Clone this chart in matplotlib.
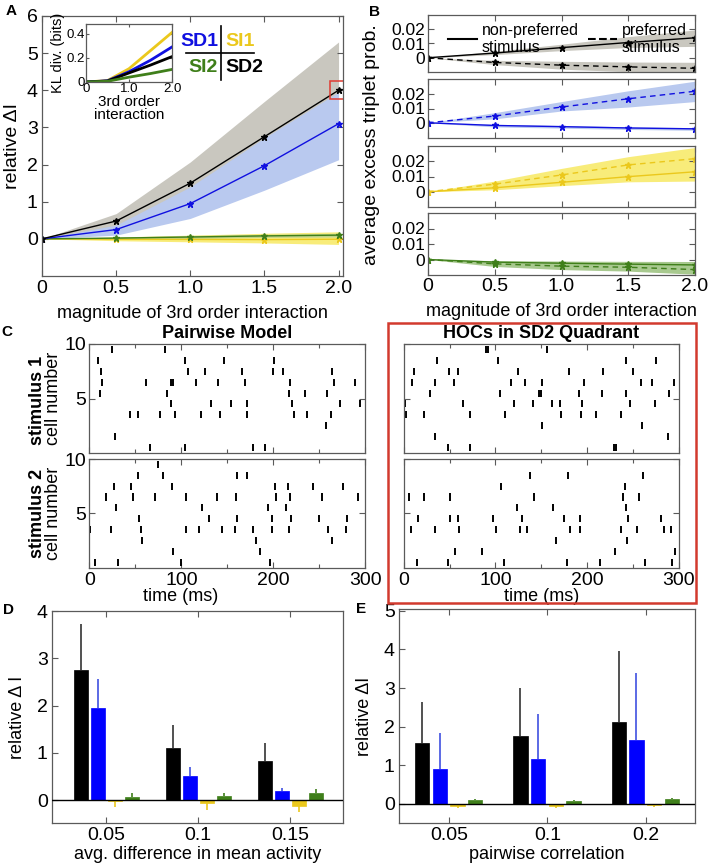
import matplotlib
matplotlib.use('Agg')
import matplotlib.pyplot as plt
import numpy as np
from matplotlib.patches import Rectangle
from matplotlib.lines import Line2D
from matplotlib.ticker import MultipleLocator

plt.rcParams['font.family'] = ['Liberation Sans', 'DejaVu Sans']

# ---------------- data ----------------
mag = [0, 0.5, 1.0, 1.5, 2.0]
# panel A: relative delta I
sd2_dI = [0, 0.48, 1.50, 2.75, 4.00]
sd2_lo = [0, 0.30, 1.00, 2.00, 3.00]
sd2_hi = [0, 0.68, 2.07, 3.70, 5.30]
sd1_dI = [0, 0.25, 0.95, 1.97, 3.10]
sd1_lo = [0, 0.10, 0.55, 1.31, 2.13]
sd1_hi = [0, 0.37, 1.40, 2.72, 3.95]
si1_dI = [0, -0.01, -0.015, -0.02, -0.01]
si1_lo = [0, -0.05, -0.08, -0.11, -0.15]
si1_hi = [0, 0.05, 0.10, 0.15, 0.19]
si2_dI = [0, 0.02, 0.05, 0.08, 0.10]
si2_lo = [0, -0.01, 0.01, 0.04, 0.05]
si2_hi = [0, 0.05, 0.09, 0.12, 0.15]
# inset: KL divergence (bits)
kl_si1 = [0, 0.012, 0.11, 0.26, 0.41]
kl_sd1 = [0, 0.010, 0.085, 0.18, 0.29]
kl_sd2 = [0, 0.008, 0.075, 0.14, 0.21]
kl_si2 = [0, 0.006, 0.040, 0.07, 0.104]

# panel B: average excess triplet prob. (np = non-preferred, p = preferred)
b_sd2_np = [0, 0.0033, 0.0071, 0.0107, 0.0140]
b_sd2_np_lo = [0, 0.0022, 0.0050, 0.0072, 0.0080]
b_sd2_np_hi = [0, 0.0045, 0.0095, 0.0148, 0.0195]
b_sd2_p = [0, -0.0033, -0.0052, -0.0064, -0.0074]
b_sd2_p_lo = [0, -0.0048, -0.0080, -0.0098, -0.0110]
b_sd2_p_hi = [0, -0.0018, -0.0025, -0.0030, -0.0032]

b_sd1_np = [0.0003, -0.0015, -0.0023, -0.0032, -0.0038]
b_sd1_np_lo = [0.0003, -0.0025, -0.0033, -0.0042, -0.0048]
b_sd1_np_hi = [0.0003, -0.0007, -0.0015, -0.0024, -0.0030]
b_sd1_p = [0.0003, 0.0049, 0.0110, 0.0166, 0.0217]
b_sd1_p_lo = [0.0003, 0.0030, 0.0083, 0.0110, 0.0147]
b_sd1_p_hi = [0.0003, 0.0072, 0.0147, 0.0220, 0.0285]

b_si1_np = [0, 0.0026, 0.0062, 0.0099, 0.0131]
b_si1_np_lo = [0, 0.0013, 0.0040, 0.0065, 0.0070]
b_si1_np_hi = [0, 0.0040, 0.0090, 0.0130, 0.0180]
b_si1_p = [0, 0.0050, 0.0110, 0.0176, 0.0217]
b_si1_p_lo = [0, 0.0030, 0.0080, 0.0120, 0.0150]
b_si1_p_hi = [0, 0.0070, 0.0153, 0.0230, 0.0290]

b_si2_np = [0, -0.0017, -0.0024, -0.0030, -0.0035]
b_si2_np_lo = [0, -0.0030, -0.0040, -0.0048, -0.0055]
b_si2_np_hi = [0, -0.0007, -0.0010, -0.0012, -0.0013]
b_si2_p = [0, -0.0028, -0.0043, -0.0050, -0.0065]
b_si2_p_lo = [0, -0.0045, -0.0065, -0.0075, -0.0095]
b_si2_p_hi = [0, -0.0015, -0.0025, -0.0030, -0.0040]

# panel C: spike rasters, rows = cell 1..10, spike times (ms)
pw_stim1 = [
    [66.2, 104, 177.7, 191],
    [27.7],
    [256.8],
    [44.6, 53.2, 76.3, 93.5, 120.9, 142.1, 171.2, 222.3, 236.3, 262.9],
    [88.8, 132.4, 154.3, 171.6, 219.8, 271.9, 293.5],
    [11.9, 84.2, 216.9, 234.2, 258.3],
    [13.7, 61.1, 88.5, 90.6, 116.2, 139.9, 169.1, 218, 265.8, 288.1],
    [12.6, 107.5, 125.2, 165.8, 199.3, 210, 264],
    [9.4, 104, 146.4, 200.4],
    [24.8, 82.4],
]
pw_stim2 = [
    [6.1, 31.7, 99.6, 196.8],
    [90.6, 185.2],
    [56.8, 181.3, 263.3],
    [0.7, 23.4, 56.5, 105.4, 118.7, 144.6, 158.6, 177.7, 198.6, 216.9, 259.7, 278.8],
    [53.6, 129.5, 160.8, 198.9, 218.7, 250, 279.5],
    [29.1, 122.3, 194.2, 213.7],
    [18.3, 47.5, 70.9, 105.4, 139.2, 159.3, 203.2, 218, 252.5, 292.1],
    [26.3, 45, 89.9, 201.8, 215.5, 243.5, 275.9],
    [53.2, 79.9, 160.8, 170.9],
    [74.8],
]
hoc_stim1 = [
    [48.2, 72, 229.1, 231.6],
    [34.1, 288.6],
    [151.3, 260.5],
    [2.4, 22.6, 72, 110.6, 171.8, 193.5, 210, 237.4],
    [1, 64.4, 119.9, 140.8, 161.7, 171.1, 194.5, 247.5, 274.5],
    [28.4, 104.8, 147.3, 150.2, 191.6, 216.9, 243.2, 290.1],
    [8.6, 33.8, 54.3, 117.4, 132.9, 150.9, 196.7, 258.7, 270.6, 294.7],
    [11.1, 48.9, 59, 124.6, 180.8, 217.2, 250.7],
    [36.7, 102.6, 243.2, 275.6],
    [89.3, 91.5, 156.7],
]
hoc_stim2 = [
    [14, 48.2, 109.1, 178.3, 214.4, 263, 292.9],
    [56.1, 84.9, 230.2, 296.2],
    [166, 243.5],
    [7.8, 34.1, 60.1, 101.2, 126.4, 134.7, 181.9, 192.7, 237.4, 255.1, 284.3, 292.2],
    [15, 50, 59.4, 97.6, 129.3, 175.1, 192.7, 245.3, 281],
    [123.9, 163.2, 242.8],
    [5.7, 22.3, 50.7, 142.6, 239.6, 257.2],
    [106.6, 241.4],
    [137.9, 179.4, 260.9],
    [],
]

# panel D
d_groups = ['0.05', '0.1', '0.15']
d_sd2 = [2.75, 1.10, 0.84]; d_sd2_err = [0.98, 0.49, 0.37]
d_sd1 = [1.96, 0.52, 0.19]; d_sd1_err = [0.60, 0.18, 0.08]
d_si1 = [-0.01, -0.056, -0.13]; d_si1_err = [0.14, 0.14, 0.11]
d_si2 = [0.07, 0.09, 0.15]; d_si2_err = [0.08, 0.07, 0.08]
# panel E
e_groups = ['0.05', '0.1', '0.2']
e_sd2 = [1.57, 1.76, 2.11]; e_sd2_err = [1.06, 1.24, 1.85]
e_sd1 = [0.89, 1.16, 1.65]; e_sd1_err = [0.95, 1.17, 1.74]
e_si1 = [-0.06, -0.06, -0.03]; e_si1_err = [0.05, 0.06, 0.05]
e_si2 = [0.09, 0.08, 0.12]; e_si2_err = [0.03, 0.02, 0.02]

# ---------------- style ----------------
BLACK = '#000000'; BLUE = '#1010e0'; YELLOW = '#ebc81c'; GREEN = '#3f7f1a'
F_GRAY = '#c9c7bf'; F_BLUE = '#b9c9ef'; F_YEL = '#f8ec7a'; F_GRN = '#a8c98f'
SPINE = '#5a5a5a'
W, H = 708, 866
fig = plt.figure(figsize=(W / 100, H / 100), dpi=100)


def ax_px(l, t, r, b):
    return fig.add_axes([l / W, 1 - b / H, (r - l) / W, (b - t) / H])


def style(ax, size=13):
    for s in ax.spines.values():
        s.set_color(SPINE)
        s.set_linewidth(0.9)
    ax.tick_params(direction='in', top=True, right=True, color=SPINE,
                   labelsize=size, length=4, width=0.8, pad=3)
    ax.tick_params(which='minor', direction='in', top=True, right=True,
                   color=SPINE, length=3, width=0.8)


# ---------------- panel A ----------------
axA = ax_px(42, 16, 343, 276)
axA.fill_between(mag, sd2_lo, sd2_hi, color=F_GRAY, lw=0)
axA.fill_between(mag, sd1_lo, sd1_hi, color=F_BLUE, lw=0)
axA.fill_between(mag, si1_lo, si1_hi, color=F_YEL, lw=0)
axA.fill_between(mag, si2_lo, si2_hi, color=F_GRN, lw=0, alpha=0.7)
for ys, c in [(si1_dI, YELLOW), (si2_dI, GREEN), (sd1_dI, BLUE), (sd2_dI, BLACK)]:
    axA.plot(mag, ys, color=c, lw=1.0, marker='*', ms=5)
axA.plot(mag[-1], sd2_dI[-1], marker='s', ms=13, mfc='none', mec='#e03a30', mew=1.1)
axA.set_xlim(0, 2.03)
axA.set_ylim(-1, 6)
axA.set_yticks(range(0, 7))
axA.set_xticks(mag)
axA.set_xticklabels(['0', '0.5', '1.0', '1.5', '2.0'])
style(axA, 14)
axA.set_ylabel('relative ΔI', fontsize=14, labelpad=4)
axA.set_xlabel('magnitude of 3rd order interaction', fontsize=13, labelpad=6)

# inset
axI = ax_px(86, 24, 172, 82)
for ys, c in [(kl_si1, YELLOW), (kl_sd1, BLUE), (kl_sd2, BLACK), (kl_si2, GREEN)]:
    axI.plot(mag, ys, color=c, lw=2)
axI.set_xlim(0, 2.0)
axI.set_ylim(0, 0.48)
axI.set_xticks([0, 1.0, 2.0])
axI.set_xticklabels(['0', '1.0', '2.0'])
axI.set_yticks([0, 0.2, 0.4])
axI.set_yticklabels(['0', '0.2', '0.4'])
style(axI, 9.5)
axI.tick_params(pad=1, length=2)
axI.set_xlabel('3rd order\ninteraction', fontsize=11, labelpad=0, linespacing=0.85)
axI.set_ylabel('KL div. (bits)', fontsize=10.5, labelpad=1)

# quadrant legend
fig.text(218 / W, 1 - 41 / H, 'SD1', color=BLUE, fontsize=14, fontweight='bold', ha='right', va='center')
fig.text(225 / W, 1 - 41 / H, 'SI1', color=YELLOW, fontsize=14, fontweight='bold', ha='left', va='center')
fig.text(218 / W, 1 - 68 / H, 'SI2', color=GREEN, fontsize=14, fontweight='bold', ha='right', va='center')
fig.text(225 / W, 1 - 68 / H, 'SD2', color=BLACK, fontsize=14, fontweight='bold', ha='left', va='center')
fig.add_artist(Line2D([186 / W, 254 / W], [1 - 53 / H, 1 - 53 / H], color='k', lw=1.2))
fig.add_artist(Line2D([221 / W, 221 / W], [1 - 26 / H, 1 - 80 / H], color='k', lw=1.2))

# ---------------- panel B ----------------
b_rows = [(15, 72), (79, 138), (146, 207), (213, 275)]
b_sets = [
    (BLACK, F_GRAY, b_sd2_np, b_sd2_np_lo, b_sd2_np_hi, b_sd2_p, b_sd2_p_lo, b_sd2_p_hi),
    (BLUE, F_BLUE, b_sd1_np, b_sd1_np_lo, b_sd1_np_hi, b_sd1_p, b_sd1_p_lo, b_sd1_p_hi),
    (YELLOW, F_YEL, b_si1_np, b_si1_np_lo, b_si1_np_hi, b_si1_p, b_si1_p_lo, b_si1_p_hi),
    (GREEN, F_GRN, b_si2_np, b_si2_np_lo, b_si2_np_hi, b_si2_p, b_si2_p_lo, b_si2_p_hi),
]
for i, ((t, b), (c, fc, np_, nlo, nhi, p_, plo, phi)) in enumerate(zip(b_rows, b_sets)):
    ax = ax_px(428, t, 695, b)
    ax.fill_between(mag, nlo, nhi, color=fc, lw=0)
    ax.fill_between(mag, plo, phi, color=fc, lw=0)
    ax.plot(mag, np_, color=c, lw=1.0, marker='*', ms=5, ls='-')
    ax.plot(mag, p_, color=c, lw=1.0, marker='*', ms=5, ls='--', dashes=(4, 3))
    ax.set_xlim(0, 2.0)
    ax.set_ylim(-0.01, 0.03)
    ax.set_yticks([0, 0.01, 0.02])
    ax.set_yticklabels(['0', '0.01', '0.02'])
    ax.set_xticks(mag)
    style(ax, 12.5)
    ax.tick_params(pad=2)
    if i < 3:
        ax.set_xticklabels([])
    else:
        ax.set_xticklabels(['0', '0.5', '1.0', '1.5', '2.0'])
        ax.tick_params(axis='x', labelsize=14)
        ax.set_xlabel('magnitude of 3rd order interaction', fontsize=13, labelpad=6)
    if i == 0:
        h1 = Line2D([], [], color='k', lw=1.5, ls='-')
        h2 = Line2D([], [], color='k', lw=1.5, ls='--')
        ax.legend([h1, h2], ['non-preferred\nstimulus', 'preferred\nstimulus'],
                  loc='upper left', bbox_to_anchor=(0.04, 1.03), ncol=2, frameon=False,
                  fontsize=11.5, handlelength=1.8, handletextpad=0.3, columnspacing=0.6,
                  labelspacing=0.1, borderpad=0.1)
fig.text(371 / W, 1 - 145 / H, 'average excess triplet prob.', rotation=90,
         fontsize=14, ha='center', va='center')

# ---------------- panel C ----------------
def raster(l, t, r, b, rows, xmax, xlabels):
    ax = ax_px(l, t, r, b)
    offs = [k + 0.5 for k in range(len(rows))]
    ax.eventplot(rows, lineoffsets=offs, linelengths=0.65, colors='k', linewidths=1.4)
    ax.set_xlim(0, xmax)
    ax.set_ylim(0, 10)
    ax.set_yticks([5, 10])
    ax.set_xticks([0, 100, 200, 300])
    ax.xaxis.set_minor_locator(MultipleLocator(50))
    style(ax, 14)
    ax.tick_params(axis='y', pad=2)
    if not xlabels:
        ax.set_xticklabels([])
    return ax


c1 = raster(89.3, 344, 365.5, 453, pw_stim1, 298, False)
c1.set_title('Pairwise Model', fontsize=13, fontweight='bold', pad=4)
c1.set_ylabel('cell number', fontsize=13, labelpad=2)
c2 = raster(89.3, 459, 365.5, 567.5, pw_stim2, 298, True)
c2.set_ylabel('cell number', fontsize=13, labelpad=2)
c2.set_xlabel('time (ms)', fontsize=13)
c2.xaxis.set_label_coords(0.33, -0.19)
c3 = raster(403.8, 344, 678.5, 453, hoc_stim1, 297, False)
c3.set_yticklabels([])
c3.set_title('HOCs in SD2 Quadrant', fontsize=13, fontweight='bold', pad=4)
c4 = raster(403.8, 459, 678.5, 567.5, hoc_stim2, 297, True)
c4.set_yticklabels([])
c4.set_xlabel('time (ms)', fontsize=13)
c4.xaxis.set_label_coords(0.5, -0.19)
fig.text(37 / W, 1 - 400 / H, 'stimulus 1', rotation=90, fontsize=13, fontweight='bold', ha='center', va='center')
fig.text(37 / W, 1 - 513 / H, 'stimulus 2', rotation=90, fontsize=13, fontweight='bold', ha='center', va='center')
fig.add_artist(Rectangle((387.5 / W, 1 - 603 / H), (696 - 387.5) / W, (603 - 323) / H,
                         fill=False, ec='#d23a2e', lw=1.8, transform=fig.transFigure))

# ---------------- panels D, E ----------------
def bars(l, t, r, b, groups, series, ylim, xlim, offs, width, ylabel, xlabel, yticks):
    ax = ax_px(l, t, r, b)
    x = np.arange(1, len(groups) + 1)
    for (vals, errs, c, ec), o in zip(series, offs):
        vals = np.array(vals); errs = np.array(errs)
        ax.bar(x + o, vals, width=width, color=c, edgecolor=c, lw=0.5, zorder=2)
        lower = np.where(vals < 0, errs, 0)
        upper = np.where(vals >= 0, errs, 0)
        ax.errorbar(x + o, vals, yerr=[lower, upper], fmt='none', ecolor=ec,
                    elinewidth=1.2, capsize=0, zorder=1)
    ax.axhline(0, color='k', lw=1.0, zorder=3)
    ax.set_xlim(*xlim)
    ax.set_ylim(*ylim)
    ax.set_xticks(x)
    ax.set_xticklabels(groups)
    ax.set_yticks(yticks)
    style(ax, 14)
    ax.tick_params(right=False)
    ax.set_ylabel(ylabel, fontsize=13, labelpad=8)
    ax.set_xlabel(xlabel, fontsize=13, labelpad=1)
    return ax


axD = bars(52, 611, 343, 823, d_groups,
           [(d_sd2, d_sd2_err, BLACK, '#333333'), (d_sd1, d_sd1_err, '#0000ff', '#4050e0'),
            (d_si1, d_si1_err, YELLOW, YELLOW), (d_si2, d_si2_err, GREEN, GREEN)],
           (-0.48, 4.0), (0.41, 3.58), [-0.27, -0.085, 0.10, 0.285], 0.155,
           'relative Δ I', 'avg. difference in mean activity', [0, 1, 2, 3, 4])
axE = bars(399, 609, 695, 823, e_groups,
           [(e_sd2, e_sd2_err, BLACK, '#333333'), (e_sd1, e_sd1_err, '#0000ff', '#4050e0'),
            (e_si1, e_si1_err, YELLOW, YELLOW), (e_si2, e_si2_err, GREEN, GREEN)],
           (-0.5, 5.05), (0.49, 3.5), [-0.275, -0.095, 0.085, 0.265], 0.145,
           'relative ΔI', 'pairwise correlation', [0, 1, 2, 3, 4, 5])

# panel letters
for lab, (px, py) in {'A': (11, 11), 'B': (375, 12), 'C': (7, 332), 'D': (8, 610), 'E': (361, 609)}.items():
    fig.text(px / W, 1 - py / H, lab, fontsize=11, fontweight='bold', ha='center', va='center')

fig.savefig('out.png', dpi=100)
